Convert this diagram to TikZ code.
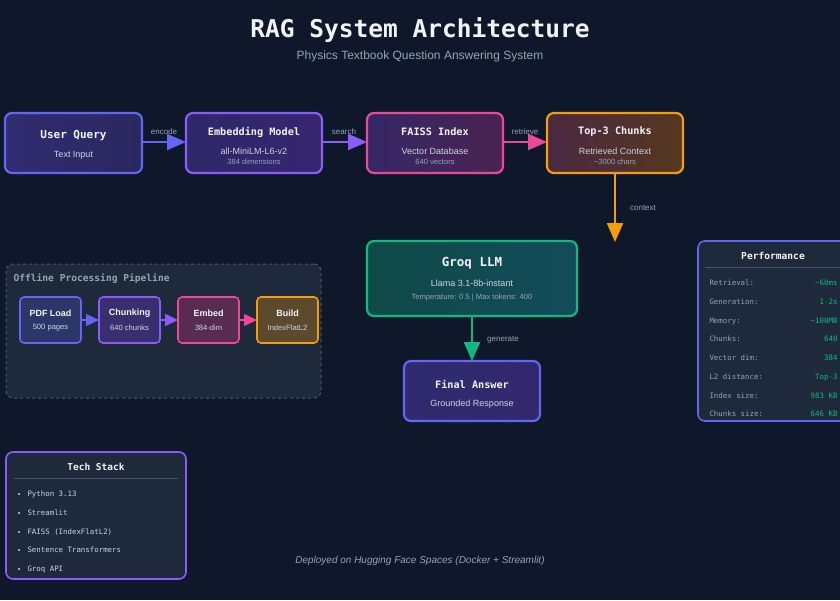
\documentclass[tikz,border=0pt]{standalone}
\usepackage{fontspec}
\setmainfont{Liberation Sans}
\newfontfamily\mono{DejaVu Sans Mono}
\usetikzlibrary{arrows.meta}
\definecolor{bg}{HTML}{0F172A}
\definecolor{panel}{HTML}{1E293B}
\definecolor{cIndigo}{HTML}{6366F1}
\definecolor{cViolet}{HTML}{8B5CF6}
\definecolor{cPink}{HTML}{EC4899}
\definecolor{cAmber}{HTML}{F59E0B}
\definecolor{cGreen}{HTML}{10B981}
\definecolor{txtW}{HTML}{F1F5F9}
\definecolor{txtL}{HTML}{CBD5E1}
\definecolor{txtG}{HTML}{94A3B8}
\definecolor{cDash}{HTML}{475569}
\definecolor{uqA}{HTML}{302C72}\definecolor{uqB}{HTML}{2A2860}
\definecolor{emA}{HTML}{2D2868}\definecolor{emB}{HTML}{362670}
\definecolor{faA}{HTML}{352766}\definecolor{faB}{HTML}{4A2350}
\definecolor{tcA}{HTML}{4A2841}\definecolor{tcB}{HTML}{56381F}
\definecolor{llA}{HTML}{0F4A47}\definecolor{llB}{HTML}{134B5A}
\definecolor{fiA}{HTML}{2E2B6E}\definecolor{fiB}{HTML}{33286E}
\definecolor{pf1}{HTML}{2C3668}
\definecolor{pf2}{HTML}{3A2F6E}
\definecolor{pf3}{HTML}{582C50}
\definecolor{pf4}{HTML}{5C4A2C}
\tikzset{
  box/.style={draw, line width=2.2pt, rounded corners=7pt, inner sep=0pt, outer sep=0pt, anchor=north west},
  pbox/.style={draw, line width=1.6pt, rounded corners=4pt, inner sep=0pt, outer sep=0pt, anchor=north west, minimum width=61pt, minimum height=46pt},
  ttl/.style={font=\mono\bfseries\fontsize{10.2}{12}\selectfont, text=txtW},
  sub/.style={font=\fontsize{9}{11}\selectfont, text=txtL},
  small/.style={font=\fontsize{7.6}{9}\selectfont, text=txtG},
  lbl/.style={font=\fontsize{8}{10}\selectfont, text=txtG},
  flow/.style={line width=2.2pt, -{Triangle[length=19pt,width=16pt]}},
  pflow/.style={line width=1.6pt, -{Triangle[length=13pt,width=12pt]}},
  ptl/.style={font=\bfseries\fontsize{9}{11}\selectfont, text=txtW},
  psub/.style={font=\fontsize{7.6}{9}\selectfont, text=txtL},
  rowl/.style={font=\mono\fontsize{7.4}{9}\selectfont, text=txtG, anchor=west, text height=5.5pt, text depth=1.5pt},
  rowv/.style={font=\mono\fontsize{7.4}{9}\selectfont, text=cGreen, anchor=east, text height=5.5pt, text depth=1.5pt},
  item/.style={font=\mono\fontsize{7.4}{9}\selectfont, text=txtL, anchor=west, text height=5.5pt, text depth=1.5pt},
}
\begin{document}
\begin{tikzpicture}[x=1pt,y=-1pt]
\fill[bg] (0,0) rectangle (840,600);
\useasboundingbox (0,0) rectangle (840,600);

% title
\node[font=\mono\bfseries\fontsize{24.5}{28}\selectfont, text=txtW] (title) at (420,30) {RAG System Architecture};
\node[font=\fontsize{12}{14}\selectfont, text=txtG] (subtitle) at (420,56) {Physics Textbook Question Answering System};

% main row
\node[box, draw=cIndigo, left color=uqA, right color=uqB, minimum width=137pt, minimum height=60pt] (uq) at (5,113) {};
\node[ttl, font=\mono\bfseries\fontsize{11}{13}\selectfont] (uqt) at (73.5,136) {User Query};
\node[sub] (uqs) at (73.5,155) {Text Input};

\node[box, draw=cViolet, left color=emA, right color=emB, minimum width=136pt, minimum height=60pt] (em) at (186,113) {};
\node[ttl] (emt) at (254,132) {Embedding Model};
\node[sub] (ems) at (254,151) {all-MiniLM-L6-v2};
\node[small] (emx) at (254,162) {384 dimensions};

\node[box, draw=cPink, left color=faA, right color=faB, minimum width=136pt, minimum height=60pt] (fa) at (367,113) {};
\node[ttl] (fat) at (435,132) {FAISS Index};
\node[sub] (fas) at (435,151) {Vector Database};
\node[small] (fax) at (435,162) {640 vectors};

\node[box, draw=cAmber, left color=tcA, right color=tcB, minimum width=136pt, minimum height=60pt] (tc) at (547,113) {};
\node[ttl] (tct) at (615,132) {Top-3 Chunks};
\node[sub] (tcs) at (615,151) {Retrieved Context};
\node[small] (tcx) at (615,162) {\textasciitilde 3000 chars};

\draw[flow, cIndigo] (uq.east |- 0,142) -- (em.west |- 0,142);
\node[lbl] (l1) at (164,132) {encode};
\draw[flow, cViolet] (em.east |- 0,142) -- (fa.west |- 0,142);
\node[lbl] (l2) at (344,132) {search};
\draw[flow, cPink] (fa.east |- 0,142) -- (tc.west |- 0,142);
\node[lbl] (l3) at (525,132) {retrieve};

% LLM
\node[box, draw=cGreen, left color=llA, right color=llB, minimum width=210pt, minimum height=75pt] (llm) at (367,241) {};
\node[ttl, font=\mono\bfseries\fontsize{12.5}{14}\selectfont] (llmt) at (472,263) {Groq LLM};
\node[sub] (llms) at (472,283) {Llama 3.1-8b-instant};
\node[small] (llmx) at (472,298) {Temperature: 0.5 | Max tokens: 400};
\coordinate (ctxEnd) at (615,242);
\draw[flow, cAmber] (tc.south) -- (ctxEnd);
\node[lbl] (l4) at (643,208) {context};

\node[box, draw=cIndigo, left color=fiA, right color=fiB, minimum width=136pt, minimum height=60pt] (fin) at (404,361) {};
\node[ttl] (fint) at (472,384) {Final Answer};
\node[sub] (fins) at (472,404) {Grounded Response};
\draw[flow, cGreen] (llm.south -| fin.north) -- (fin.north);
\node[lbl] (l5) at (503,340) {generate};

% offline pipeline
\node[draw=cDash, fill=panel, dashed, line width=1pt, rounded corners=7pt, anchor=north west, outer sep=0pt, minimum width=315pt, minimum height=134pt, inner sep=0pt] (off) at (6,264) {};
\node[font=\mono\bfseries\fontsize{9.6}{11}\selectfont, text=txtG, anchor=west] (offt) at (10,279) {Offline Processing Pipeline};

\node[pbox, draw=cIndigo, fill=pf1] (p1) at (20,297) {};
\node[ptl] (p1t) at (50.5,313) {PDF Load};
\node[psub] (p1s) at (50.5,328) {500 pages};
\node[pbox, draw=cViolet, fill=pf2] (p2) at (99,297) {};
\node[ptl] (p2t) at (129.5,313) {Chunking};
\node[psub] (p2s) at (129.5,328) {640 chunks};
\node[pbox, draw=cPink, fill=pf3] (p3) at (178,297) {};
\node[ptl] (p3t) at (208.5,313) {Embed};
\node[psub] (p3s) at (208.5,328) {384-dim};
\node[pbox, draw=cAmber, fill=pf4] (p4) at (257,297) {};
\node[ptl] (p4t) at (287.5,313) {Build};
\node[psub] (p4s) at (287.5,328) {IndexFlatL2};
\draw[pflow, cIndigo] (p1) -- (p2);
\draw[pflow, cViolet] (p2) -- (p3);
\draw[pflow, cPink] (p3) -- (p4);

% performance
\node[draw=cIndigo, fill=panel, line width=1.6pt, rounded corners=7pt, anchor=north west, outer sep=0pt, minimum width=150pt, minimum height=180pt, inner sep=0pt] (perf) at (698,241) {};
\node[font=\mono\bfseries\fontsize{9.6}{11}\selectfont, text=txtW] (perft) at (773,256) {Performance};
\draw[cDash, line width=0.8pt] (705,267) coordinate (pl1) -- (840,267) coordinate (pl2);
\foreach \y/\a/\b [count=\i] in {283/Retrieval:/\textasciitilde 60ms, 302/Generation:/1-2s, 321/Memory:/\textasciitilde 100MB, 339/Chunks:/640, 358/Vector dim:/384, 377/L2 distance:/Top-3, 396/Index size:/983 KB, 414/Chunks size:/646 KB}{
  \node[rowl] (pa\i) at (706,\y) {\a};
  \node[rowv] (pb\i) at (841,\y) {\b};
}

% tech stack
\node[draw=cViolet, fill=panel, line width=1.6pt, rounded corners=7pt, anchor=north west, outer sep=0pt, minimum width=180pt, minimum height=127pt, inner sep=0pt] (tech) at (6,452) {};
\node[font=\mono\bfseries\fontsize{9.5}{11}\selectfont, text=txtW] (techt) at (96,467) {Tech Stack};
\draw[cDash, line width=0.8pt] (14,478) coordinate (tl1) -- (178,478) coordinate (tl2);
\foreach \y/\a [count=\i] in {494/Python 3.13, 513/Streamlit, 532/FAISS (IndexFlatL2), 550/Sentence Transformers, 569/Groq API}{
  \fill[txtL] (19,\y) circle (1.1pt);
  \node[item] (ti\i) at (24,\y) {\a};
}

% footer
\node[font=\itshape\fontsize{10}{12}\selectfont, text=txtG] (foot) at (420,561) {Deployed on Hugging Face Spaces (Docker + Streamlit)};
\end{tikzpicture}
\end{document}
